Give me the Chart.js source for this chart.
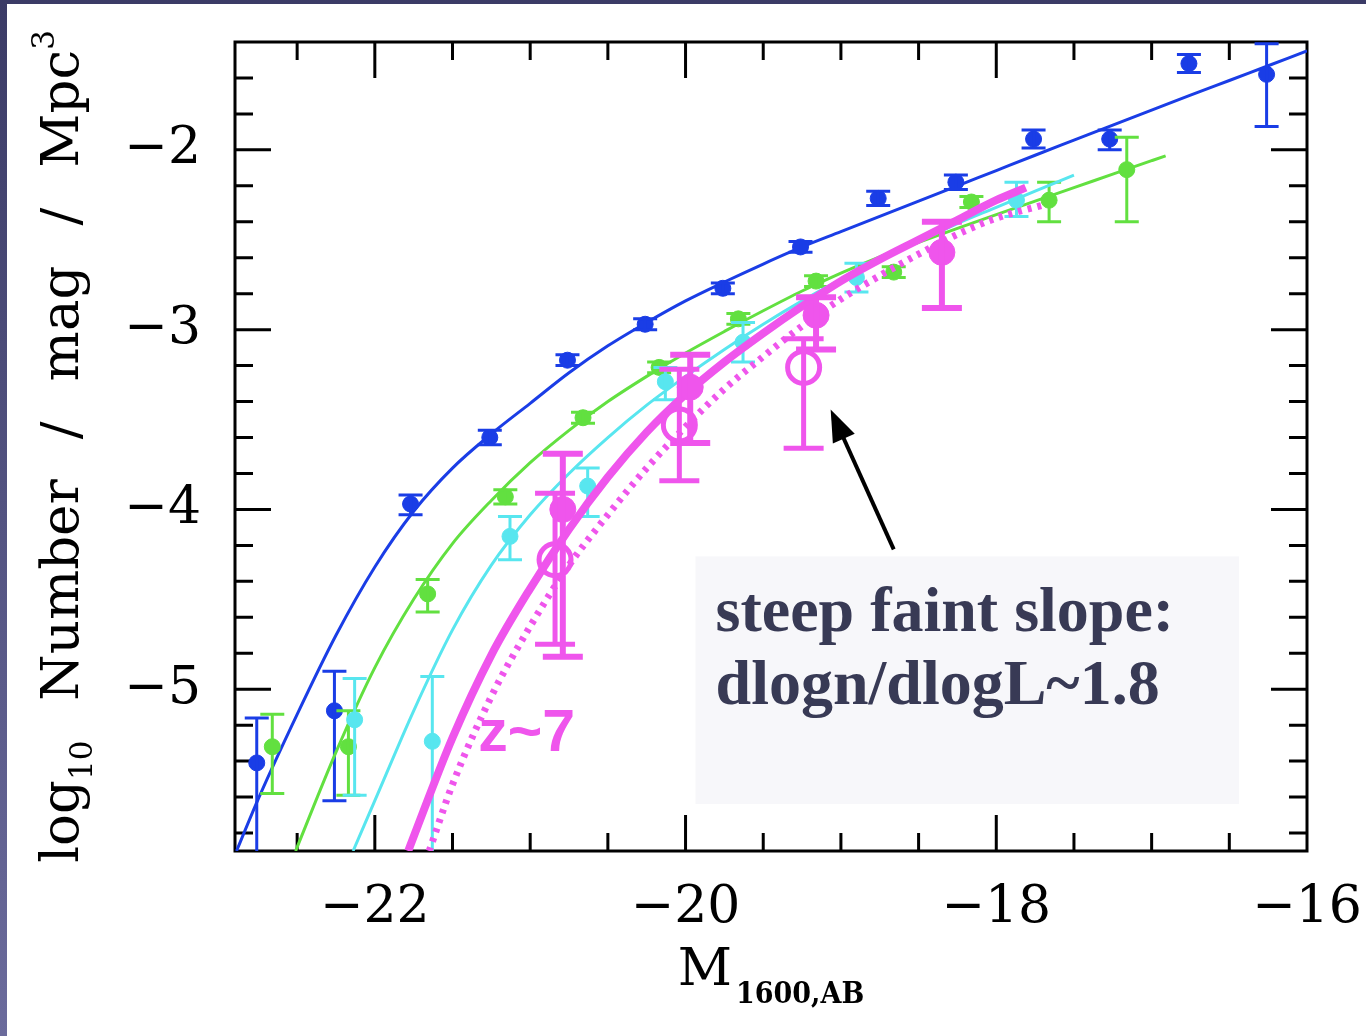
<!DOCTYPE html>
<html>
<head>
<meta charset="utf-8">
<script src="https://cdn.jsdelivr.net/npm/chart.js@4.4.1/dist/chart.umd.min.js"></script>
<style>
  html, body { margin: 0; padding: 0; }
  body { width: 1366px; height: 1036px; position: relative; overflow: hidden;
         background: linear-gradient(to bottom, #3b3b66, #6b6b9c); }
  #panel { position: absolute; left: 7px; top: 4px; width: 1359px; height: 1032px; background: #fff; }
</style>
</head>
<body>
<div id="panel"><canvas id="lf" width="1359" height="1032"></canvas></div>
<script>
// axis ticks
const xTicks = [-22, -20, -18, -16];
const yTicks = [-5, -4, -3, -2];

// z~4 (blue)
const blueX  = [-22.76, -22.26, -21.77, -21.26, -20.76, -20.26, -19.76, -19.26, -18.76, -18.26, -17.76, -17.27, -16.76, -16.26];
const blueY  = [-5.41, -5.12, -3.97, -3.60, -3.17, -2.97, -2.77, -2.54, -2.27, -2.18, -1.94, -1.94, -1.52, -1.58];
const blueLo = [-6.20, -5.62, -4.03, -3.64, -3.20, -3.00, -2.80, -2.57, -2.31, -2.22, -1.99, -2.00, -1.57, -1.87];
const blueHi = [-5.16, -4.90, -3.92, -3.56, -3.14, -2.94, -2.74, -2.51, -2.23, -2.14, -1.89, -1.89, -1.47, -1.41];
const blueFitX = [-22.89, -22.75, -22.5, -22.25, -22, -21.75, -21.5, -21.25, -21, -20.75, -20.5, -20.25, -20, -19.75, -19.5, -19.25, -19, -18.75, -18.5, -18.25, -18, -17.75, -17.5, -17.25, -17, -16.75, -16.5, -16.25, -16];
const blueFitY = [-5.90, -5.61, -5.14, -4.70, -4.32, -4.01, -3.77, -3.58, -3.41, -3.24, -3.09, -2.96, -2.84, -2.735, -2.635, -2.54, -2.455, -2.37, -2.285, -2.20, -2.115, -2.03, -1.946, -1.862, -1.779, -1.696, -1.614, -1.532, -1.45];

// z~5 (green)
const greenX  = [-22.66, -22.17, -21.66, -21.16, -20.66, -20.17, -19.66, -19.16, -18.66, -18.16, -17.66, -17.16];
const greenY  = [-5.32, -5.32, -4.47, -3.93, -3.49, -3.21, -2.94, -2.73, -2.68, -2.29, -2.28, -2.11];
const greenLo = [-5.58, -5.59, -4.57, -3.97, -3.52, -3.24, -2.97, -2.76, -2.71, -2.32, -2.40, -2.40];
const greenHi = [-5.14, -5.12, -4.39, -3.89, -3.46, -3.18, -2.91, -2.70, -2.65, -2.26, -2.18, -1.93];
const greenFitX = [-22.51, -22.25, -22, -21.75, -21.5, -21.25, -21, -20.75, -20.5, -20.25, -20, -19.75, -19.5, -19.25, -19, -18.75, -18.5, -18.25, -18, -17.75, -17.5, -17.25, -17, -16.91];
const greenFitY = [-5.90, -5.35, -4.88, -4.50, -4.19, -3.95, -3.74, -3.56, -3.40, -3.26, -3.13, -3.01, -2.895, -2.785, -2.685, -2.595, -2.515, -2.437, -2.36, -2.285, -2.21, -2.135, -2.06, -2.033];

// z~6 (cyan)
const cyanX  = [-22.13, -21.63, -21.13, -20.63, -20.13, -19.63, -18.90, -17.87];
const cyanY  = [-5.17, -5.29, -4.15, -3.87, -3.29, -3.07, -2.71, -2.28];
const cyanLo = [-5.59, -6.00, -4.28, -4.04, -3.39, -3.18, -2.79, -2.37];
const cyanHi = [-4.94, -4.93, -4.04, -3.77, -3.21, -2.96, -2.63, -2.18];
const cyanFitX = [-22.14, -22, -21.75, -21.5, -21.25, -21, -20.75, -20.5, -20.25, -20, -19.75, -19.5, -19.25, -19, -18.75, -18.5, -18.25, -18, -17.75, -17.5];
const cyanFitY = [-5.90, -5.62, -5.12, -4.67, -4.31, -4.03, -3.80, -3.60, -3.42, -3.26, -3.11, -2.97, -2.84, -2.72, -2.61, -2.51, -2.41, -2.32, -2.23, -2.14];

// z~7 (magenta)
const magX  = [-20.79, -19.97, -19.16, -18.35];
const magY  = [-4.00, -3.32, -2.92, -2.57];
const magLo = [-4.82, -3.63, -3.11, -2.88];
const magHi = [-3.69, -3.14, -2.82, -2.40];
const openX  = [-20.84, -20.04, -19.24];
const openY  = [-4.28, -3.53, -3.21];
const openLo = [-4.75, -3.84, -3.66];
const openHi = [-3.91, -3.22, -3.05];
const magFitX = [-21.785, -21.75, -21.5, -21.25, -21, -20.75, -20.5, -20.25, -20, -19.75, -19.5, -19.25, -19, -18.75, -18.5, -18.25, -18, -17.81];
const magFitY = [-5.90, -5.82, -5.27, -4.81, -4.44, -4.11, -3.82, -3.57, -3.36, -3.18, -3.02, -2.87, -2.73, -2.61, -2.50, -2.39, -2.28, -2.21];
const magDotX = [-21.65, -21.5, -21.25, -21, -20.75, -20.5, -20.25, -20, -19.75, -19.5, -19.25, -19, -18.75, -18.5, -18.25, -18, -17.71];
const magDotY = [-5.90, -5.53, -5.04, -4.65, -4.31, -4.03, -3.77, -3.54, -3.33, -3.15, -2.98, -2.83, -2.70, -2.58, -2.47, -2.38, -2.31];

const BLUE = '#1a3de6', GREEN = '#62e040', CYAN = '#58e6ef', MAG = '#ef55ec';
const pts = (xs, ys) => xs.map((x, i) => ({x: x, y: ys[i]}));
const minus = v => (v < 0 ? '\u2212' : '') + Math.abs(v);

function fitLine(xs, ys, color, w, dash) {
  return { data: pts(xs, ys), showLine: true, pointRadius: 0, borderColor: color,
           borderWidth: w, borderDash: dash || [], cubicInterpolationMode: 'monotone' };
}
function points(xs, ys, lo, hi, color, r, cap, w) {
  return { data: pts(xs, ys), pointRadius: r, pointBackgroundColor: color, pointBorderColor: color,
           borderColor: color, err: {lo: lo, hi: hi, cap: cap, width: w} };
}
// keep tick labels from pushing the plot box around
function noPad(s) { s.paddingTop = 0; s.paddingBottom = 0; s.paddingLeft = 0; s.paddingRight = 0; }

const errorBars = {
  id: 'errorBars',
  afterDatasetDraw(chart, args) {
    const ds = chart.data.datasets[args.index];
    if (!ds.err) return;
    const {ctx, chartArea: a, scales: {x, y}} = chart;
    ctx.save();
    ctx.beginPath();
    ctx.rect(a.left, a.top, a.right - a.left, a.bottom - a.top);
    ctx.clip();
    ctx.strokeStyle = ds.borderColor;
    ctx.lineWidth = ds.err.width;
    const c = ds.err.cap;
    ds.data.forEach((p, i) => {
      const px = x.getPixelForValue(p.x);
      const t = y.getPixelForValue(ds.err.hi[i]);
      const b = y.getPixelForValue(ds.err.lo[i]);
      ctx.beginPath();
      ctx.moveTo(px, t); ctx.lineTo(px, b);
      ctx.moveTo(px - c, t); ctx.lineTo(px + c, t);
      ctx.moveTo(px - c, b); ctx.lineTo(px + c, b);
      ctx.stroke();
    });
    ctx.restore();
  }
};

// box with inward ticks on all four sides
const frame = {
  id: 'frame',
  beforeDatasetsDraw(chart) {
    const {ctx, chartArea: a, scales: {x, y}} = chart;
    ctx.save();
    ctx.strokeStyle = '#000';
    ctx.lineWidth = 3;
    ctx.beginPath();
    for (let k = -45; k <= -33; k++) {
      const v = k / 2, px = x.getPixelForValue(v);
      const len = (v % 2 === 0) ? 36 : 18;
      ctx.moveTo(px, a.bottom); ctx.lineTo(px, a.bottom - len);
      ctx.moveTo(px, a.top); ctx.lineTo(px, a.top + len);
    }
    for (let k = -29; k <= -8; k++) {
      const v = k / 5, py = y.getPixelForValue(v);
      const len = (k % 5 === 0) ? 36 : 18;
      ctx.moveTo(a.left, py); ctx.lineTo(a.left + len, py);
      ctx.moveTo(a.right, py); ctx.lineTo(a.right - len, py);
    }
    ctx.stroke();
    ctx.strokeRect(a.left, a.top, a.right - a.left, a.bottom - a.top);
    ctx.restore();
  }
};

const notes = {
  id: 'notes',
  afterDraw(chart) {
    const {ctx, chartArea: a, scales: {x, y}} = chart;
    ctx.save();
    // text box
    const bx0 = x.getPixelForValue(-19.936), bx1 = x.getPixelForValue(-16.437);
    const by0 = y.getPixelForValue(-4.261), by1 = y.getPixelForValue(-5.639);
    ctx.fillStyle = '#f7f7fa';
    ctx.fillRect(bx0, by0, bx1 - bx0, by1 - by0);
    ctx.fillStyle = '#383a55';
    ctx.font = 'bold 64px "Liberation Serif", serif';
    ctx.textAlign = 'left';
    ctx.textBaseline = 'alphabetic';
    ctx.fillText('steep faint slope:', x.getPixelForValue(-19.807), y.getPixelForValue(-4.678));
    ctx.fillText('dlogn/dlogL~1.8', x.getPixelForValue(-19.807), y.getPixelForValue(-5.083));

    // arrow
    const tx = x.getPixelForValue(-18.66), ty = y.getPixelForValue(-4.222);
    const hx = x.getPixelForValue(-19.066), hy = y.getPixelForValue(-3.444);
    const ang = Math.atan2(hy - ty, hx - tx);
    ctx.strokeStyle = '#000'; ctx.fillStyle = '#000'; ctx.lineWidth = 4;
    ctx.beginPath();
    ctx.moveTo(tx, ty);
    ctx.lineTo(hx - 20 * Math.cos(ang), hy - 20 * Math.sin(ang));
    ctx.stroke();
    ctx.beginPath();
    ctx.moveTo(hx, hy);
    ctx.lineTo(hx - 32 * Math.cos(ang) + 12 * Math.sin(ang), hy - 32 * Math.sin(ang) - 12 * Math.cos(ang));
    ctx.lineTo(hx - 32 * Math.cos(ang) - 12 * Math.sin(ang), hy - 32 * Math.sin(ang) + 12 * Math.cos(ang));
    ctx.closePath();
    ctx.fill();

    // z~7 label
    ctx.fillStyle = MAG;
    ctx.font = 'bold 59px "Liberation Sans", Arial, sans-serif';
    ctx.fillText('z~7', x.getPixelForValue(-21.334), y.getPixelForValue(-5.344));

    // x axis title
    ctx.fillStyle = '#000';
    const big = '53px "DejaVu Serif", serif', sub = 'bold 30px "DejaVu Serif Condensed", "DejaVu Serif", serif';
    ctx.font = big;
    const wM = ctx.measureText('M').width;
    ctx.font = sub;
    const wS = ctx.measureText('1600,AB').width;
    const cx = (a.left + a.right) / 2, x0 = cx - (wM + 4 + wS) / 2;
    ctx.font = big;
    ctx.fillText('M', x0, 981);
    ctx.font = sub;
    ctx.fillText('1600,AB', x0 + wM + 4, 999);

    // y axis title, rotated
    const bigY = '53px "DejaVu Serif", serif', smallY = '31px "DejaVu Serif", serif';
    const parts = [['log', bigY, 0], ['10', smallY, 14], [null, 40], ['Number', bigY, 0], [null, 40],
                   ['/', bigY, 0], [null, 40], ['mag', bigY, 0], [null, 40], ['/', bigY, 0], [null, 40],
                   ['Mpc', bigY, 0], ['3', smallY, -24]];
    let total = 0;
    parts.forEach(p => {
      if (p[0] === null) { p.w = p[1]; } else { ctx.font = p[1]; p.w = ctx.measureText(p[0]).width; }
      total += p.w;
    });
    ctx.translate(71, (a.top + a.bottom) / 2);
    ctx.rotate(-Math.PI / 2);
    let pos = -total / 2;
    parts.forEach(p => {
      if (p[0] !== null) { ctx.font = p[1]; ctx.fillText(p[0], pos, p[2]); }
      pos += p.w;
    });
    ctx.restore();
  }
};

new Chart(document.getElementById('lf'), {
  type: 'scatter',
  data: {
    datasets: [
      Object.assign(points(openX, openY, openLo, openHi, MAG, 16, 20, 5),
                    {pointBackgroundColor: 'rgba(0,0,0,0)', pointBorderWidth: 5}),
      points(magX, magY, magLo, magHi, MAG, 13, 20, 6),
      fitLine(magFitX, magFitY, MAG, 8),
      fitLine(magDotX, magDotY, MAG, 7, [4, 6]),
      points(cyanX, cyanY, cyanLo, cyanHi, CYAN, 8, 12, 3),
      fitLine(cyanFitX, cyanFitY, CYAN, 3),
      points(greenX, greenY, greenLo, greenHi, GREEN, 8, 12, 3),
      fitLine(greenFitX, greenFitY, GREEN, 3),
      points(blueX, blueY, blueLo, blueHi, BLUE, 8, 12, 3),
      fitLine(blueFitX, blueFitY, BLUE, 3)
    ]
  },
  options: {
    responsive: false,
    animation: false,
    devicePixelRatio: 1,
    layout: { padding: { top: 38, right: 59, left: 0, bottom: 0 } },
    plugins: { legend: { display: false }, tooltip: { enabled: false } },
    scales: {
      x: {
        type: 'linear', min: -22.9, max: -16,
        grid: { display: false, drawTicks: false },
        border: { display: false },
        afterBuildTicks: s => { s.ticks = xTicks.map(v => ({value: v})); },
        afterFit: s => { s.height = 185; noPad(s); },
        ticks: { color: '#000', padding: 26, maxRotation: 0, autoSkip: false,
                 font: { family: 'DejaVu Serif', size: 52 }, callback: v => minus(v) }
      },
      y: {
        type: 'linear', min: -5.9, max: -1.4,
        grid: { display: false, drawTicks: false },
        border: { display: false },
        afterBuildTicks: s => { s.ticks = yTicks.map(v => ({value: v})); },
        afterFit: s => { s.width = 228; noPad(s); },
        ticks: { color: '#000', padding: 34, autoSkip: false,
                 font: { family: 'DejaVu Serif', size: 52 }, callback: v => minus(v) }
      }
    }
  },
  plugins: [frame, errorBars, notes]
});
</script>
</body>
</html>
